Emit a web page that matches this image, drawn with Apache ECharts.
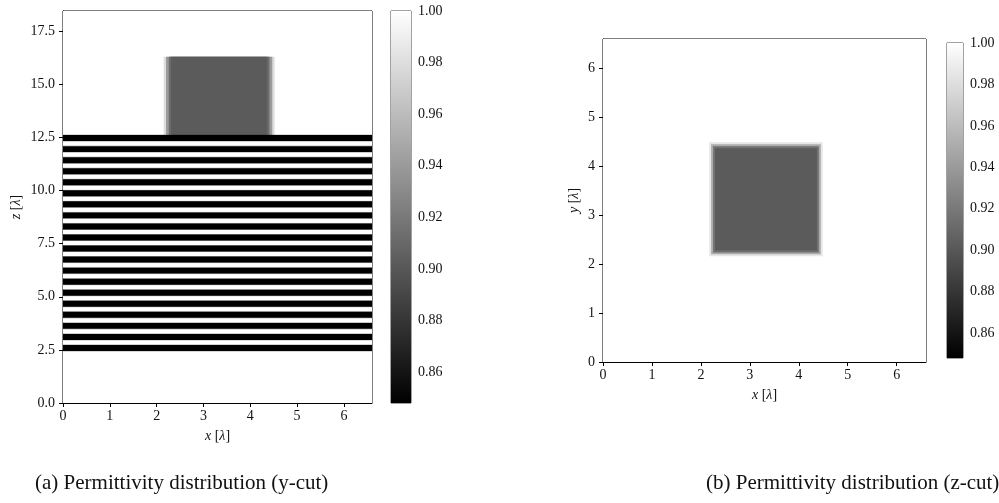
<!DOCTYPE html>
<html>
<head>
<meta charset="utf-8">
<style>
  html, body { margin: 0; padding: 0; background: #fff; }
  #chart { width: 999px; height: 503px; }
</style>
<script src="https://cdn.jsdelivr.net/npm/echarts@6/dist/echarts.min.js"></script>
</head>
<body>
<div id="chart"></div>
<script>
// permittivity range of the colour bars
const epsMin = 0.848
const epsMax = 1.0
const cbTicks = [0.86, 0.88, 0.90, 0.92, 0.94, 0.96, 0.98, 1.00]

// axis ticks
const xTicks = [0, 1, 2, 3, 4, 5, 6]
const zTicks = [0, 2.5, 5, 7.5, 10, 12.5, 15, 17.5]
const yTicks = [0, 1, 2, 3, 4, 5, 6]
const xMax = 6.6
const zMax = 18.45
const yMax = 6.6

// (a) y-cut: multilayer stack (black layers), bottom edge of each layer
const layerBottoms = [2.45, 2.97, 3.49, 4.01, 4.53, 5.05, 5.57, 6.09, 6.61, 7.13,
  7.65, 8.17, 8.69, 9.21, 9.73, 10.25, 10.77, 11.29, 11.81, 12.33]
const layerThickness = 0.28
const layerEps = 0.848

// (a) block above the stack, blurred in x: [x0, x1, z0, z1, eps]
const blockA = [
  [0, 6.6, 0, 18.45, 1.0],
  [2.15, 4.52, 12.5, 16.3, 0.98],
  [2.2, 4.47, 12.5, 16.3, 0.94],
  [2.26, 4.41, 12.5, 16.3, 0.912],
  [2.31, 4.36, 12.5, 16.3, 0.902]
]

// (b) z-cut: square, blurred on all sides: [x0, x1, y0, y1, eps]
const blockB = [
  [0, 6.6, 0, 6.6, 1.0],
  [2.17, 4.49, 2.16, 4.49, 0.985],
  [2.21, 4.45, 2.2, 4.45, 0.95],
  [2.25, 4.41, 2.24, 4.41, 0.915],
  [2.29, 4.37, 2.28, 4.37, 0.902]
]

const cellsA = blockA.concat(layerBottoms.map(z => [0, xMax, z, z + layerThickness, layerEps]))
const cellsB = blockB

const font = 'Liberation Serif'
const tickSize = 14

function renderCell(params, api) {
  const p0 = api.coord([api.value(0), api.value(2)])
  const p1 = api.coord([api.value(1), api.value(3)])
  const isLayer = api.value(4) <= epsMin + 1e-6
  return {
    type: 'rect',
    shape: { x: p0[0], y: p1[1], width: p1[0] - p0[0], height: p0[1] - p1[1] },
    style: {
      fill: api.visual('color'),
      stroke: isLayer ? 'rgba(0,0,0,0.35)' : null,
      lineWidth: isLayer ? 1 : 0
    }
  }
}

function renderBar(params) {
  const c = params.coordSys
  return {
    type: 'rect',
    shape: { x: c.x, y: c.y, width: c.width, height: c.height },
    style: {
      fill: new echarts.graphic.LinearGradient(0, 0, 0, 1, [
        { offset: 0, color: '#ffffff' },
        { offset: 1, color: '#000000' }
      ])
    }
  }
}

const axisName = (v) => '{i|' + v + '} [{i|λ}]'
const nameStyle = {
  fontFamily: font, fontSize: 14, color: '#111',
  rich: { i: { fontFamily: font, fontSize: 14, fontStyle: 'italic', color: '#111' } }
}

function tickLabels(ticks, digits, margin) {
  return {
    customValues: ticks, margin, fontFamily: font, fontSize: tickSize, color: '#111',
    formatter: v => v.toFixed(digits)
  }
}

function valueAxis(gridIndex, max, ticks, digits, extra) {
  return Object.assign({
    type: 'value', gridIndex, min: 0, max,
    splitLine: { show: false },
    axisLine: { show: true, onZero: false, lineStyle: { color: '#000', width: 1 } },
    axisTick: { show: true, length: 4, customValues: ticks, lineStyle: { color: '#000' } },
    axisLabel: tickLabels(ticks, digits, 8)
  }, extra)
}

function cbAxis(gridIndex) {
  return {
    type: 'value', gridIndex, position: 'right', min: epsMin, max: epsMax,
    splitLine: { show: false },
    axisLine: { show: false },
    axisTick: { show: true, length: 4, customValues: cbTicks, lineStyle: { color: '#000' } },
    axisLabel: tickLabels(cbTicks, 2, 7)
  }
}

const hiddenX = (gridIndex) => ({ type: 'value', gridIndex, min: 0, max: 1, show: false })

const gridBox = { show: true, borderColor: '#000', borderWidth: 1, backgroundColor: '#fff' }

const option = {
  animation: false,
  backgroundColor: '#fff',
  grid: [
    Object.assign({ left: 63, top: 11, width: 309, height: 392 }, gridBox),
    Object.assign({ left: 603, top: 39, width: 323, height: 323 }, gridBox),
    Object.assign({ left: 391, top: 11, width: 20, height: 392 }, gridBox, { borderColor: '#444' }),
    Object.assign({ left: 947, top: 43, width: 16, height: 315 }, gridBox, { borderColor: '#444' })
  ],
  xAxis: [
    valueAxis(0, xMax, xTicks, 0, { name: axisName('x'), nameLocation: 'middle', nameGap: 26, nameTextStyle: nameStyle, axisLabel: tickLabels(xTicks, 0, 6) }),
    valueAxis(1, xMax, xTicks, 0, { name: axisName('x'), nameLocation: 'middle', nameGap: 26, nameTextStyle: nameStyle, axisLabel: tickLabels(xTicks, 0, 6) }),
    hiddenX(2),
    hiddenX(3)
  ],
  yAxis: [
    valueAxis(0, zMax, zTicks, 1, { name: axisName('z'), nameLocation: 'middle', nameGap: 40, nameTextStyle: nameStyle, axisLabel: tickLabels(zTicks, 1, 8) }),
    valueAxis(1, yMax, yTicks, 0, { name: axisName('y'), nameLocation: 'middle', nameGap: 22, nameTextStyle: nameStyle, axisLabel: tickLabels(yTicks, 0, 8) }),
    cbAxis(2),
    cbAxis(3)
  ],
  visualMap: {
    type: 'continuous', show: false, min: epsMin, max: epsMax,
    dimension: 4, seriesIndex: [0, 1],
    inRange: { color: ['#000000', '#ffffff'] }
  },
  series: [
    {
      type: 'custom', xAxisIndex: 0, yAxisIndex: 0, clip: true,
      encode: { x: [0, 1], y: [2, 3] },
      renderItem: renderCell, data: cellsA
    },
    {
      type: 'custom', xAxisIndex: 1, yAxisIndex: 1, clip: true,
      encode: { x: [0, 1], y: [2, 3] },
      renderItem: renderCell, data: cellsB
    },
    { type: 'custom', xAxisIndex: 2, yAxisIndex: 2, renderItem: renderBar, data: [[0.5, epsMax]] },
    { type: 'custom', xAxisIndex: 3, yAxisIndex: 3, renderItem: renderBar, data: [[0.5, epsMax]] }
  ],
  graphic: [
    { type: 'text', left: 35, top: 473, style: { text: '(a) Permittivity distribution (y-cut)', font: '21px "Liberation Serif"', fill: '#111' } },
    { type: 'text', left: 706, top: 473, style: { text: '(b) Permittivity distribution (z-cut)', font: '21px "Liberation Serif"', fill: '#111' } }
  ]
}

const chart = echarts.init(document.getElementById('chart'), null, { renderer: 'canvas' })
chart.setOption(option)
</script>
</body>
</html>
